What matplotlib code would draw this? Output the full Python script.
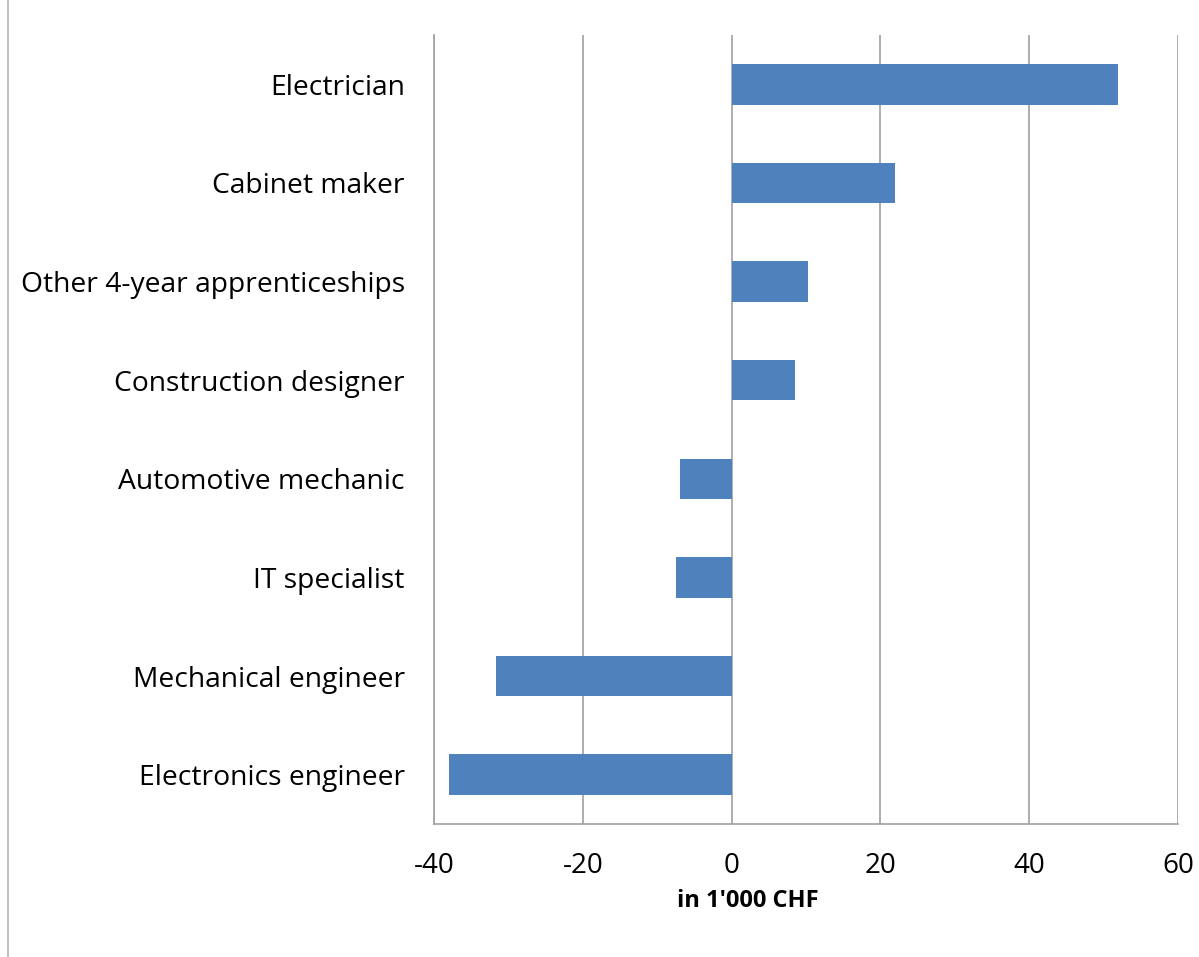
import matplotlib
matplotlib.use("Agg")
import matplotlib.pyplot as plt
from matplotlib.lines import Line2D

plt.rcParams['font.family'] = ['Open Sans', 'DejaVu Sans']

# difference per apprenticeship, top to bottom
jobs = ["Electrician", "Cabinet maker", "Other 4-year apprenticeships",
        "Construction designer", "Automotive mechanic", "IT specialist",
        "Mechanical engineer", "Electronics engineer"]
values = [52.0, 21.9, 10.3, 8.5, -6.9, -7.5, -31.6, -38.0]
xticks = [-40, -20, 0, 20, 40, 60]

fig = plt.figure(figsize=(11.99, 9.57), dpi=100)
ax = fig.add_axes([434 / 1199, 133 / 957, 744 / 1199, 789 / 957])

ypos = list(range(len(jobs)))[::-1]
ax.barh(ypos, values, height=0.41, color='#4f81bd', zorder=3)

ax.set_xlim(-40, 60)
ax.set_ylim(-0.5, len(jobs) - 0.5)
ax.set_xticks(xticks)
ax.set_xticklabels([str(t) for t in xticks], fontsize=20)
ax.set_yticks(ypos)
ax.set_yticklabels(jobs, fontsize=20.3)
ax.tick_params(axis='both', length=0)
ax.tick_params(axis='x', pad=20)
ax.tick_params(axis='y', pad=21)

ax.xaxis.grid(True, color='#a0a0a0', linewidth=1.2, zorder=0)
for side in ['top', 'right']:
    ax.spines[side].set_visible(False)
for side in ['left', 'bottom']:
    ax.spines[side].set_color('#a0a0a0')
    ax.spines[side].set_linewidth(1.2)

ax.set_xlabel("in 1'000 CHF", fontsize=17, fontweight='bold')
ax.xaxis.set_label_coords(0.422, -0.083)

# thin frame line on the left edge of the figure
fig.add_artist(Line2D([7.5 / 1199, 7.5 / 1199], [0, 1], color='#c0c0c0',
                      linewidth=1.5, transform=fig.transFigure))

fig.savefig("out.png", dpi=100)
